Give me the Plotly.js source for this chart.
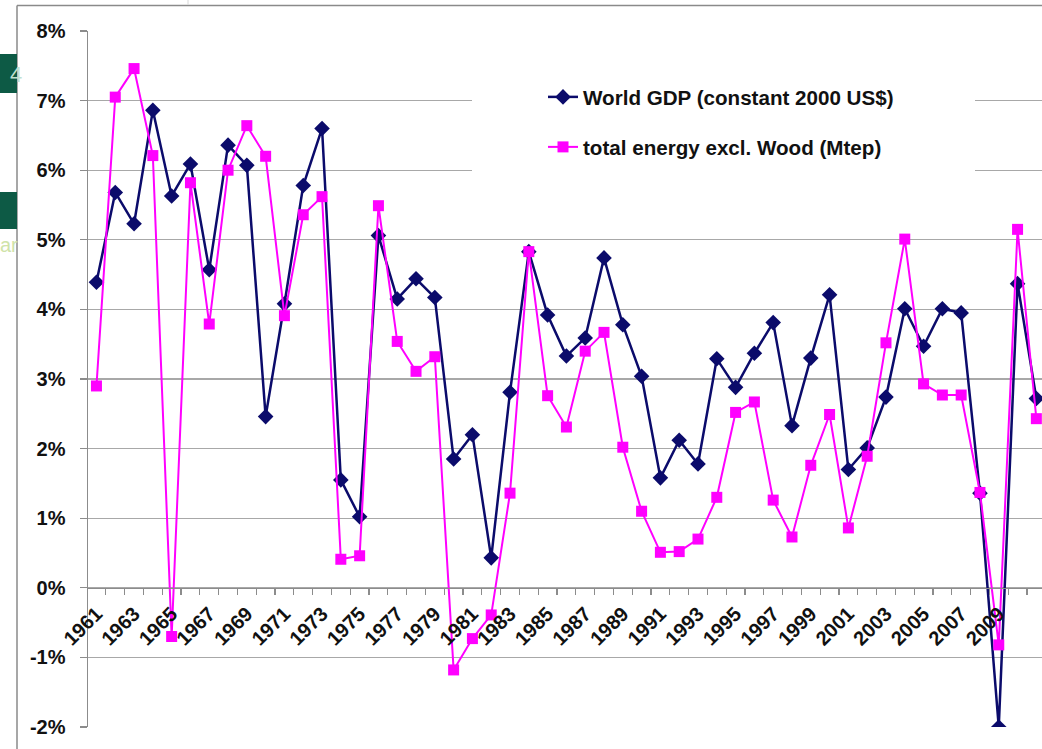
<!DOCTYPE html>
<html>
<head>
<meta charset="utf-8">
<script src="https://cdn.plot.ly/plotly-3.0.1.min.js"></script>
<style>
html,body{margin:0;padding:0;background:#fff;}
#chart{width:1042px;height:749px;}
</style>
</head>
<body>
<div id="chart"></div>
<script>
const years = [1961,1962,1963,1964,1965,1966,1967,1968,1969,1970,
  1971,1972,1973,1974,1975,1976,1977,1978,1979,1980,
  1981,1982,1983,1984,1985,1986,1987,1988,1989,1990,
  1991,1992,1993,1994,1995,1996,1997,1998,1999,2000,
  2001,2002,2003,2004,2005,2006,2007,2008,2009,2010,2011];

const gdp = [4.39,5.68,5.23,6.86,5.63,6.09,4.57,6.36,6.07,2.46,
  4.08,5.78,6.60,1.55,1.02,5.06,4.15,4.44,4.17,1.85,
  2.20,0.43,2.81,4.83,3.92,3.33,3.59,4.74,3.78,3.04,
  1.58,2.12,1.78,3.29,2.88,3.37,3.81,2.33,3.30,4.21,
  1.70,2.01,2.74,4.01,3.47,4.01,3.95,1.36,-2.00,4.37,2.72];

const energy = [2.90,7.05,7.46,6.21,-0.70,5.82,3.79,6.00,6.64,6.20,
  3.91,5.36,5.62,0.41,0.46,5.49,3.54,3.11,3.32,-1.18,
  -0.73,-0.39,1.36,4.83,2.76,2.31,3.40,3.67,2.02,1.10,
  0.51,0.52,0.70,1.30,2.52,2.67,1.26,0.73,1.76,2.49,
  0.86,1.89,3.52,5.01,2.93,2.77,2.77,1.37,-0.82,5.15,2.43];

const seriesNames = ["World GDP (constant 2000 US$)", "total energy excl. Wood (Mtep)"];

const yTickVals = [-2,-1,0,1,2,3,4,5,6,7,8];
const yTickText = ["-2%","-1%","0%","1%","2%","3%","4%","5%","6%","7%","8%"];

const xTickVals = [1961,1963,1965,1967,1969,1971,1973,1975,1977,1979,1981,1983,1985,
  1987,1989,1991,1993,1995,1997,1999,2001,2003,2005,2007,2009,2011];
const xTickText = xTickVals.map(String);

const FONT = "Liberation Sans, Arial, Helvetica, sans-serif";
const GRID = "#a8a8a8";
const AXIS = "#8c8c8c";

const traces = [
  {
    x: years, y: gdp, name: seriesNames[0], type: "scatter", mode: "lines+markers",
    line: {color: "#0b0b6b", width: 2.5},
    marker: {symbol: "diamond", size: 12, color: "#0b0b6b"},
    legend: "legend"
  },
  {
    x: years, y: energy, name: seriesNames[1], type: "scatter", mode: "lines+markers",
    line: {color: "#ff00ff", width: 2},
    marker: {symbol: "square", size: 11, color: "#ff00ff"},
    legend: "legend2"
  }
];

const W = 954, H = 696; // plot area size in px
function px(xp){ return (xp - 88) / W; }
function py(yp){ return (727 - yp) / H; }

const LEGFONT = {family: FONT, size: 20.6, weight: "bold", color: "#111"};

const layout = {
  width: 1042, height: 749,
  margin: {l: 88, r: 0, t: 31, b: 22, pad: 0},
  paper_bgcolor: "#ffffff", plot_bgcolor: "#ffffff",
  font: {family: FONT, color: "#111111"},
  showlegend: true,
  xaxis: {
    type: "linear",
    range: [1960.55, 2011.3],
    anchor: "free", position: 0.2,
    tickvals: xTickVals, ticktext: xTickText,
    tickangle: -45,
    ticks: "",
    tickfont: {family: FONT, size: 20, weight: "bold", color: "#111"},
    ticklabelstandoff: 5,
    showline: true, linecolor: AXIS, linewidth: 1.5,
    showgrid: false, zeroline: false,
    minor: {tick0: 1960.5, dtick: 1, ticks: "outside", ticklen: 6, tickcolor: AXIS, tickwidth: 1.2, showgrid: false},
    fixedrange: true
  },
  yaxis: {
    range: [-2, 8],
    tickvals: yTickVals, ticktext: yTickText,
    ticks: "outside", ticklen: 7, tickcolor: AXIS, tickwidth: 1.2,
    tickfont: {family: FONT, size: 20, weight: "bold", color: "#111"},
    ticklabelstandoff: 10,
    showline: true, linecolor: AXIS, linewidth: 1.5,
    showgrid: true, gridcolor: GRID, gridwidth: 1.3,
    zeroline: false,
    fixedrange: true
  },
  legend: {
    x: px(543), y: py(97), xanchor: "left", yanchor: "middle",
    bgcolor: "rgba(0,0,0,0)", borderwidth: 0,
    font: LEGFONT
  },
  legend2: {
    x: px(543), y: py(147), xanchor: "left", yanchor: "middle",
    bgcolor: "rgba(0,0,0,0)", borderwidth: 0,
    font: LEGFONT
  },
  shapes: [
    {type: "rect", xref: "paper", yref: "paper", x0: px(472), x1: px(975), y0: py(185), y1: py(68),
     fillcolor: "#ffffff", line: {width: 0}, layer: "above"},
    {type: "line", xref: "paper", yref: "paper", x0: px(17), x1: px(1042), y0: py(5.5), y1: py(5.5),
     line: {color: "#8a8a8a", width: 1.5}},
    {type: "line", xref: "paper", yref: "paper", x0: px(17), x1: px(17), y0: py(5.5), y1: py(749),
     line: {color: "#8a8a8a", width: 1.5}},
    {type: "line", xref: "paper", yref: "paper", x0: px(188), x1: px(188), y0: py(0), y1: py(5),
     line: {color: "#d8d8d8", width: 1}},
    {type: "rect", xref: "paper", yref: "paper", x0: px(0), x1: px(17), y0: py(93), y1: py(54),
     fillcolor: "#0d5a45", line: {width: 0}},
    {type: "rect", xref: "paper", yref: "paper", x0: px(0), x1: px(17), y0: py(229), y1: py(192),
     fillcolor: "#0d5a45", line: {width: 0}}
  ],
  annotations: [
    {xref: "paper", yref: "paper", x: px(8), y: py(74), xanchor: "left", yanchor: "middle",
     text: "4", showarrow: false, font: {family: FONT, size: 22, color: "#bfe0d0"}},
    {xref: "paper", yref: "paper", x: px(-2), y: py(245), xanchor: "left", yanchor: "middle",
     text: "ar", showarrow: false, font: {family: FONT, size: 20, color: "#cfe3a8"}}
  ]
};

Plotly.newPlot("chart", traces, layout, {displayModeBar: false, staticPlot: true});
</script>
</body>
</html>
